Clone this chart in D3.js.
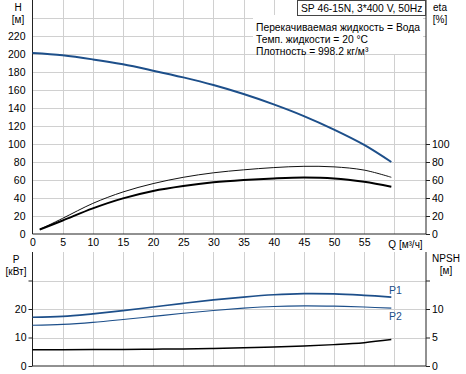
<!DOCTYPE html>
<meta charset="utf-8">
<head>
  <title>SP 46-15N pump curves</title>
</head>

<style>
body { margin: 0; background: #fff; }
text {
  font-family: "Liberation Sans", Arial, sans-serif;
  font-size: 10px;
  fill: #000;
}
.grid line { stroke: #d0d0d0; stroke-width: 1; }
.frame { stroke: #222; stroke-width: 1; }
.axis path { display: none; }
.axis line { stroke: #222; }
.axis text { font-size: 10.5px; }
.curve { fill: none; }
</style>

<body>
  <svg width="466" height="374"></svg>

  <script src="https://cdnjs.cloudflare.com/ajax/libs/d3/7.8.5/d3.min.js"></script>
  <script>
// flow values where the curves were read
var qHead = [0, 5, 10, 15, 20, 25, 30, 35, 40, 45, 50, 55, 59.5];
var head = [201, 198.5, 194, 188.5, 181.5, 174, 165.5, 155.5, 144, 131, 116, 99, 80];

var qEta = [1.2, 5, 10, 15, 20, 25, 30, 35, 40, 45, 50, 55, 59.5];
var etaPump = [5, 17.4, 34, 46.7, 56, 63, 68, 71.3, 73.8, 75.2, 74.6, 71, 63];
var etaTotal = [5, 15, 28.5, 39.6, 47.8, 53.3, 57.4, 60, 61.8, 62.8, 61.8, 58, 52.6];

var qPow = [0, 5, 10, 15, 20, 25, 30, 35, 40, 45, 50, 55, 59.5];
var p1 = [17.1, 17.4, 18.3, 19.4, 20.7, 22.0, 23.2, 24.2, 25.0, 25.4, 25.3, 24.8, 24.2];
var p2 = [14.3, 14.6, 15.3, 16.3, 17.4, 18.5, 19.5, 20.3, 20.9, 21.1, 21.0, 20.7, 20.3];
var npsh = [2.87, 2.87, 2.88, 2.9, 2.95, 3.0, 3.07, 3.18, 3.32, 3.5, 3.75, 4.1, 4.63];

var qTicks = [0, 5, 10, 15, 20, 25, 30, 35, 40, 45, 50, 55];
var hTicks = [0, 20, 40, 60, 80, 100, 120, 140, 160, 180, 200, 220];
var etaTicks = [0, 20, 40, 60, 80, 100];
var pTicks = [0, 10, 20, 30];
var npshTicks = [0, 5, 10, 15];

var infoLines = ["Перекачиваемая жидкость = Вода", "Темп. жидкости = 20 °C", "Плотность = 998.2 кг/м³"];
var title = "SP 46-15N, 3*400 V, 50Hz";

var svg = d3.select('svg');

var x = d3.scaleLinear().domain([0, 65.25]).range([32.5, 426]);
var yH = d3.scaleLinear().domain([0, 260]).range([234, 0]);
var yP = d3.scaleLinear().domain([0, 40]).range([366, 252]);
var yN = d3.scaleLinear().domain([0, 20]).range([366, 252]);

var gridQ = d3.range(5, 65, 5);

// top panel grid
var g1 = svg.append('g').attr('class', 'grid');
g1.selectAll('.v').data(gridQ).enter().append('line')
  .attr('x1', function(d) { return Math.round(x(d)) + 0.5; })
  .attr('x2', function(d) { return Math.round(x(d)) + 0.5; })
  .attr('y1', yH.range()[1]).attr('y2', yH.range()[0]);
g1.selectAll('.h').data(d3.range(20, 260, 20)).enter().append('line')
  .attr('x1', x.range()[0]).attr('x2', x.range()[1])
  .attr('y1', function(d) { return Math.round(yH(d)) + 0.5; })
  .attr('y2', function(d) { return Math.round(yH(d)) + 0.5; });

// bottom panel grid
var g2 = svg.append('g').attr('class', 'grid');
g2.selectAll('.v').data(gridQ).enter().append('line')
  .attr('x1', function(d) { return Math.round(x(d)) + 0.5; })
  .attr('x2', function(d) { return Math.round(x(d)) + 0.5; })
  .attr('y1', yP.range()[1]).attr('y2', yP.range()[0]);
g2.selectAll('.h').data([10, 20, 30]).enter().append('line')
  .attr('x1', x.range()[0]).attr('x2', x.range()[1])
  .attr('y1', function(d) { return Math.round(yP(d)) + 0.5; })
  .attr('y2', function(d) { return Math.round(yP(d)) + 0.5; });

// info text block with white background
svg.append('rect')
  .attr('x', 253).attr('y', 15).attr('width', 170).attr('height', 39)
  .attr('fill', '#fff');
svg.selectAll('.info').data(infoLines).enter().append('text')
  .attr('x', 256)
  .attr('y', function(d, i) { return 31 + i * 12; })
  .style('font-size', '10.3px')
  .text(function(d) { return d; });

// frames
function frame(y0, y1) {
  var l = x.range()[0], r = x.range()[1];
  svg.append('line').attr('class', 'frame')
    .attr('x1', l).attr('x2', l).attr('y1', y0).attr('y2', y1);
  svg.append('line').attr('class', 'frame')
    .attr('x1', r).attr('x2', r).attr('y1', y0).attr('y2', y1);
  svg.append('line').attr('class', 'frame')
    .attr('x1', l).attr('x2', r).attr('y1', y1).attr('y2', y1);
}
frame(0, 234);
frame(252, 366);

// axes
svg.append('g').attr('class', 'axis')
  .attr('transform', 'translate(' + x.range()[0] + ',0)')
  .call(d3.axisLeft(yH).tickValues(hTicks).tickSize(0).tickPadding(7));

svg.append('g').attr('class', 'axis')
  .attr('transform', 'translate(' + x.range()[1] + ',0)')
  .call(d3.axisRight(yH).tickValues(etaTicks).tickSize(4).tickPadding(2));

svg.append('g').attr('class', 'axis')
  .attr('transform', 'translate(0,234)')
  .call(d3.axisBottom(x).tickValues(qTicks).tickSize(0).tickPadding(5));

svg.append('g').attr('class', 'axis')
  .attr('transform', 'translate(' + x.range()[0] + ',0)')
  .call(d3.axisLeft(yP).tickValues(pTicks).tickSize(4).tickPadding(2)
    .tickFormat(function(d) { return d === 30 ? '' : d; }));

svg.append('g').attr('class', 'axis')
  .attr('transform', 'translate(' + x.range()[1] + ',0)')
  .call(d3.axisRight(yN).tickValues(npshTicks).tickSize(4).tickPadding(2)
    .tickFormat(function(d) { return d === 15 ? '' : d; }));

svg.append('text').attr('x', x(60) - 6).attr('y', 247.5).text('Q [м³/ч]');

// axis titles
svg.append('text').attr('x', 18).attr('y', 11).attr('text-anchor', 'middle').text('H');
svg.append('text').attr('x', 18).attr('y', 23).attr('text-anchor', 'middle').text('[м]');
svg.append('text').attr('x', 440).attr('y', 11).attr('text-anchor', 'middle').text('eta');
svg.append('text').attr('x', 440).attr('y', 23).attr('text-anchor', 'middle').text('[%]');
svg.append('text').attr('x', 16).attr('y', 263).attr('text-anchor', 'middle').text('P');
svg.append('text').attr('x', 16).attr('y', 275).attr('text-anchor', 'middle').text('[кВт]');
svg.append('text').attr('x', 446).attr('y', 262).attr('text-anchor', 'middle').text('NPSH');
svg.append('text').attr('x', 446).attr('y', 274).attr('text-anchor', 'middle').text('[м]');

// title box
svg.append('rect')
  .attr('x', 297.5).attr('y', 0.5).attr('width', 128).attr('height', 15)
  .attr('fill', '#fff').attr('stroke', '#444');
svg.append('text').attr('x', 301).attr('y', 11.5).style('font-size', '10.3px').text(title);

// curves
function curve(xs, ys, yScale, color, width) {
  var pts = xs.map(function(q, i) { return [q, ys[i]]; });
  var line = d3.line()
    .x(function(d) { return x(d[0]); })
    .y(function(d) { return yScale(d[1]); })
    .curve(d3.curveCatmullRom.alpha(0.5));
  svg.append('path').attr('class', 'curve')
    .attr('d', line(pts))
    .attr('stroke', color)
    .attr('stroke-width', width);
}

curve(qHead, head, yH, '#1d4f8a', 2);
curve(qEta, etaPump, yH, '#111', 1);
curve(qEta, etaTotal, yH, '#000', 2);
curve(qPow, p1, yP, '#1d4f8a', 1.7);
curve(qPow, p2, yP, '#1d4f8a', 1.1);
curve(qPow, npsh, yN, '#000', 1.5);

svg.append('text').attr('x', 389).attr('y', 294).style('fill', '#1d4f8a').style('font-size', '10.5px').text('P1');
svg.append('text').attr('x', 389).attr('y', 320).style('fill', '#1d4f8a').style('font-size', '10.5px').text('P2');
  </script>
</body>
</html>
